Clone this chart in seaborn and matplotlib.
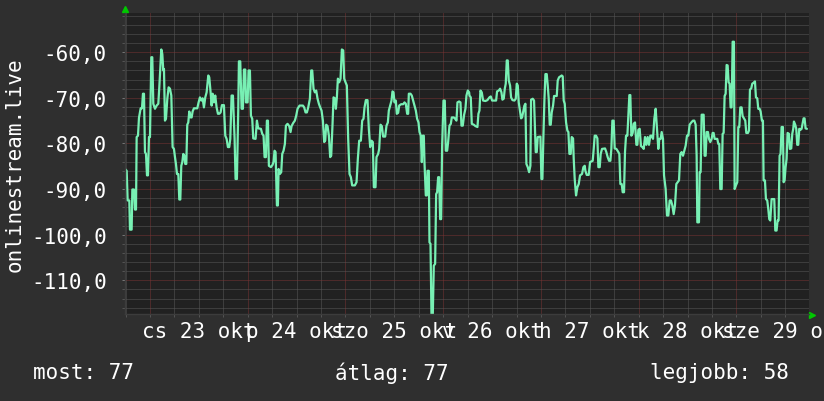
import matplotlib
matplotlib.use("Agg")
import matplotlib.pyplot as plt
from matplotlib.ticker import MultipleLocator, FuncFormatter
import seaborn as sns

# hours from 2025-10-23 00:00, signal in dBm (onlinestream.live)
hours = [
    -6.13, -5.72, -5.48, -5.07, -4.91, -4.50, -4.33, -3.93, -3.68, -3.43,
    -3.27, -2.94, -2.70, -2.29, -1.96, -1.72, -1.47, -1.23, -0.98, -0.73,
    -0.49, -0.24, 0.00, 0.33, 0.57, 0.82, 1.23, 1.64, 2.05, 2.29,
    2.78, 3.03, 3.27, 3.44, 3.68, 3.93, 4.26, 4.58, 4.91, 5.24,
    5.56, 5.89, 6.14, 6.38, 6.63, 6.96, 7.20, 7.45, 7.69, 7.94,
    8.18, 8.43, 8.67, 8.92, 9.16, 9.41, 9.65, 9.98, 10.23, 10.47,
    10.80, 11.62, 11.94, 12.27, 12.60, 12.93, 13.25, 13.58, 13.91, 14.32,
    14.56, 14.89, 15.14, 15.38, 15.71, 16.03, 16.36, 16.69, 17.02, 17.34,
    17.67, 18.16, 18.49, 18.82, 19.14, 19.47, 19.72, 20.04, 20.37, 20.78,
    21.02, 21.35, 21.68,
    21.84, 22.17, 22.50, 22.82, 23.07, 23.40, 23.56, 23.97, 24.21, 24.54,
    24.79, 25.11, 25.36, 25.93, 26.26, 26.59, 27.24, 27.57, 27.89, 28.14,
    28.47, 28.71, 28.96, 29.20, 29.69, 30.10, 30.35, 30.59, 30.84, 31.17,
    31.41, 31.58, 31.90, 32.23, 32.48, 32.80, 33.13, 33.38, 33.78, 34.19,
    34.52, 34.77, 35.18, 35.58, 35.91, 36.24, 36.73, 37.55, 37.87, 38.20,
    38.53, 38.86, 39.27, 39.59, 39.84, 40.16, 40.49, 40.82, 41.15, 41.47,
    41.80, 42.13, 42.46, 42.78, 43.03, 43.27, 43.60, 43.93, 44.25, 44.50,
    44.83, 45.07, 45.40, 45.65, 45.89, 46.14, 46.46, 46.79, 47.12, 47.45,
    47.69, 48.02, 48.34, 48.67, 49.00, 49.33, 49.65, 50.31,
    50.72, 51.04, 51.37, 51.78, 52.11, 52.43, 52.68, 53.01, 53.42, 53.74,
    54.07, 54.40, 54.72, 54.97, 55.38, 55.62, 56.03, 56.28, 56.61, 56.93,
    57.26, 57.75, 58.08, 58.41, 58.65, 58.98, 59.31, 59.55, 59.80, 60.04,
    60.37, 60.61, 60.94, 61.19, 61.68, 62.17, 62.50, 62.82, 63.15, 63.40,
    63.56, 63.97, 64.29, 64.62, 64.95, 65.28, 65.60, 65.93, 66.18, 66.50,
    66.75, 66.99, 67.24, 67.40, 67.73, 67.98, 68.14, 68.47, 68.63, 68.88,
    69.12, 69.45, 69.69, 70.02, 70.27, 70.51, 70.76, 71.00, 71.25, 71.49,
    71.74, 72.07, 72.39, 72.64, 72.97, 73.21, 73.54, 73.87, 74.11, 74.60,
    74.93, 75.26, 75.50, 75.91, 76.24, 76.48, 76.81, 77.14, 77.46, 77.71,
    78.04, 78.37,
    78.45, 78.77, 79.02, 79.51, 79.92, 80.41, 80.65, 80.90, 81.14, 81.47,
    81.80, 82.37, 82.86, 83.35, 83.68, 84.01, 84.99, 85.23, 85.64, 85.97,
    86.30, 86.54, 86.87, 87.12, 87.36, 87.61, 87.85, 88.10, 88.42, 88.67,
    89.00, 89.49, 89.82, 90.06, 90.31, 90.55, 90.80, 91.12, 91.37, 91.70,
    91.94, 92.19, 92.43, 92.76, 93.09, 93.41, 93.58, 93.99, 94.31, 94.48,
    94.72, 94.97, 95.21, 95.87, 96.11, 96.36, 96.60, 96.85, 97.10, 97.42,
    97.67, 97.91, 98.16, 98.40, 98.65, 98.98, 99.22, 99.88, 100.12, 100.45,
    100.78, 101.10, 101.35, 101.59, 101.84, 102.17, 102.49, 102.74, 102.99, 103.31,
    103.56, 103.89, 104.05, 104.29, 104.62, 104.95, 105.28, 105.60, 106.09, 106.42,
    106.75,
    106.91, 107.24, 107.73, 108.06, 108.71, 108.96, 109.20, 109.53, 109.86, 110.10,
    110.43, 110.67, 111.00, 111.74, 112.06, 112.39, 112.72, 113.05, 113.29, 113.54,
    113.86, 114.11, 114.52, 115.01, 115.25, 115.50, 115.83, 116.07, 116.40, 116.64,
    116.89, 117.22, 117.46, 117.71, 117.95, 118.20, 118.53, 118.77, 119.10, 119.43,
    119.67, 119.92, 120.24, 120.57, 120.90, 121.23, 121.55, 121.88, 122.21, 122.53,
    122.86, 123.19, 123.52, 123.84, 124.17, 124.50, 124.82, 125.07, 125.40, 125.64,
    125.97, 126.22, 126.62, 126.95, 127.28, 127.61, 127.93, 128.26, 128.59, 128.91,
    129.24, 129.57, 129.90, 130.22, 130.55, 130.88, 131.21, 131.53, 131.86, 132.19,
    132.51, 132.92, 133.33, 133.66, 133.99, 134.23, 134.40, 134.80,
    134.97, 135.21, 135.46, 135.95, 136.19, 136.44, 136.68, 137.01, 137.26, 137.58,
    137.91, 138.16, 138.40, 138.65, 139.30, 139.55, 139.79, 140.04, 140.37, 140.61,
    140.86, 141.10, 141.35, 141.59, 141.84, 142.08, 142.33, 142.57, 142.82, 143.07,
    143.39, 143.56, 143.88, 144.21, 144.46, 144.70, 144.95, 145.27, 145.52, 145.85,
    146.17, 146.42, 146.83, 147.07, 147.32, 147.65, 147.89, 148.22, 148.55, 148.79,
    149.12, 149.36, 149.69, 149.94, 150.26, 150.51, 150.67, 151.00, 151.25, 151.57,
    151.82, 152.06, 152.31, 152.64, 153.29, 153.54, 153.86, 154.11, 154.35, 154.60,
    154.84, 155.09, 155.42, 155.58, 155.83, 156.07, 156.32, 156.56, 156.89, 157.13,
    157.46, 157.71, 157.95, 158.12, 158.44, 158.69, 158.93, 159.18, 159.43, 159.75,
    160.00, 160.24, 160.49, 160.73, 160.98, 161.31,
]

signal = [
    -85.6, -86.0, -92.5, -92.5, -98.9, -98.9, -90.1, -90.1, -94.5, -94.5,
    -78.6, -78.3, -74.4, -72.3, -72.3, -69.1, -69.1, -81.9, -82.3, -87.0,
    -87.0, -78.6, -78.6, -61.1, -61.1, -71.3, -72.4, -71.7, -71.3, -67.7,
    -59.4, -60.4, -64.0, -63.7, -75.0, -74.6, -70.2, -67.7, -68.0, -69.5,
    -80.8, -81.2, -83.0, -84.5, -86.7, -86.7, -92.3, -92.3, -84.9, -84.1,
    -82.3, -82.7, -84.5, -84.5, -75.9, -75.4, -73.0, -74.3, -74.3, -73.0,
    -72.3, -72.3, -71.0, -69.9, -70.6, -70.1, -72.1, -69.9, -68.8, -65.1,
    -65.5, -68.8, -71.7, -69.1, -71.0, -69.5, -72.1, -73.5, -73.5, -73.2,
    -71.6, -71.6, -78.3, -79.0, -80.8, -80.8, -79.0, -69.5, -69.5, -79.0,
    -87.8, -87.8, -72.4,
    -62.0, -62.0, -72.4, -72.4, -63.8, -63.8, -71.0, -71.0, -64.0, -64.0,
    -73.9, -74.6, -78.9, -79.0, -75.0, -76.7, -76.8, -77.9, -78.3, -83.0,
    -83.0, -75.0, -75.0, -84.9, -85.2, -84.7, -84.0, -81.6, -81.9, -93.6,
    -93.6, -85.6, -86.7, -86.3, -82.3, -81.6, -80.1, -76.1, -75.7, -76.2,
    -77.5, -76.2, -75.5, -75.0, -73.9, -72.4, -71.7, -71.7, -72.1, -73.2,
    -73.2, -72.1, -70.2, -64.0, -64.0, -68.0, -68.8, -68.4, -70.2, -71.3,
    -72.1, -72.8, -75.0, -79.7, -79.4, -75.9, -76.2, -78.3, -83.0, -82.7,
    -75.7, -69.9, -70.1, -72.4, -69.9, -65.8, -66.6, -65.8, -59.4, -59.6,
    -65.8, -66.6, -67.3, -79.0, -86.7, -87.4, -89.2, -89.2,
    -88.5, -83.4, -79.4, -79.4, -75.0, -74.6, -72.1, -70.5, -70.5, -76.8,
    -80.8, -79.4, -79.7, -89.6, -89.6, -83.0, -82.3, -81.2, -75.9, -76.2,
    -78.5, -78.5, -76.1, -75.4, -72.8, -71.7, -70.6, -68.6, -68.8, -71.0,
    -70.6, -73.5, -73.3, -71.7, -71.4, -71.4, -71.0, -71.3, -73.5, -73.5,
    -69.1, -69.1, -69.5, -70.6, -71.7, -72.8, -74.6, -75.4, -77.5, -78.3,
    -84.1, -78.3, -78.3, -84.1, -91.4, -91.4, -86.0, -86.0, -101.7, -102.0,
    -117.4, -117.4, -106.8, -106.4, -91.1, -90.7, -87.4, -87.4, -96.6, -96.6,
    -80.5, -70.6, -70.6, -81.6, -81.6, -79.7, -76.1, -75.7, -74.3, -74.3,
    -74.6, -75.0, -71.0, -70.8, -71.0, -76.1, -76.1, -73.7, -72.4, -69.5,
    -68.4, -68.8,
    -69.5, -69.9, -75.7, -75.9, -76.2, -76.4, -73.5, -72.8, -68.4, -68.8,
    -70.6, -70.7, -70.5, -69.9, -69.7, -70.6, -70.6, -68.6, -68.4, -68.0,
    -68.8, -70.4, -70.2, -68.0, -66.9, -61.8, -61.8, -66.2, -67.3, -69.9,
    -70.5, -70.6, -70.2, -66.9, -67.3, -71.0, -72.6, -74.5, -74.3, -72.8,
    -71.7, -71.3, -84.5, -85.2, -86.3, -84.9, -70.4, -70.2, -70.6, -75.0,
    -81.9, -81.9, -78.6, -78.5, -87.8, -87.8, -78.6, -70.6, -64.8, -64.8,
    -67.3, -70.2, -75.9, -75.9, -73.2, -71.7, -69.6, -69.6, -66.2, -65.5,
    -65.3, -65.1, -65.3, -70.6, -71.3, -75.4, -77.2, -77.5, -82.3, -82.3,
    -78.6, -78.9, -83.4, -87.8, -91.4, -89.6, -88.9, -87.0, -86.7, -85.2,
    -84.9,
    -86.0, -86.9, -86.9, -84.1, -83.8, -81.2, -78.3, -78.3, -78.9, -85.2,
    -85.2, -82.3, -81.2, -81.1, -81.9, -83.0, -83.8, -83.8, -81.2, -75.0,
    -75.0, -81.1, -81.2, -81.9, -82.3, -88.9, -88.9, -90.7, -90.7, -81.9,
    -78.3, -78.3, -73.9, -69.4, -69.4, -78.3, -77.7, -75.7, -75.4, -80.3,
    -80.3, -77.0, -76.8, -80.6, -80.8, -81.2, -78.6, -80.3, -78.6, -80.3,
    -78.3, -78.3, -79.0, -74.6, -72.4, -76.8, -81.2, -79.0, -79.0, -77.5,
    -79.0, -87.0, -90.0, -95.8, -95.8, -92.5, -92.5, -93.6, -95.5, -93.6,
    -88.9, -88.5, -88.1, -82.3, -81.9, -82.7, -81.6, -80.5, -78.3, -78.3,
    -75.9, -75.4, -75.0, -75.0, -75.9, -82.7, -97.3, -97.3,
    -86.3, -86.3, -73.7, -73.7, -82.7, -82.7, -77.5, -77.5, -79.0, -79.7,
    -79.0, -77.7, -77.7, -79.0, -79.0, -80.1, -80.1, -90.0, -90.0, -77.9,
    -77.7, -69.6, -69.1, -62.8, -62.9, -66.6, -66.9, -72.1, -72.1, -57.7,
    -57.7, -90.0, -89.2, -88.5, -76.4, -76.4, -72.1, -72.1, -74.0, -74.5,
    -75.0, -77.7, -77.7, -77.2, -68.2, -67.9, -66.9, -66.7, -66.4, -69.9,
    -70.1, -72.4, -72.4, -73.0, -75.0, -75.0, -88.1, -88.1, -92.2, -92.5,
    -94.4, -96.6, -96.9, -92.2, -92.2, -99.1, -99.1, -96.9, -96.9, -82.7,
    -82.3, -76.4, -76.4, -88.5, -88.1, -85.2, -83.4, -77.7, -77.9, -81.2,
    -81.1, -77.9, -76.8, -75.2, -75.9, -76.8, -80.3, -80.3, -76.8, -77.0,
    -76.8, -75.7, -74.5, -74.5, -76.7, -76.8,
]

day_labels = ["cs 23 okt", "p 24 okt", "szo 25 okt", "v 26 okt",
              "h 27 okt", "k 28 okt", "sze 29 okt"]
day_noons = [12, 36, 60, 84, 108, 132, 156]

summary = ["most: 77", "átlag: 77", "legjobb: 58"]

BG = "#2f2f2f"
CANVAS = "#212121"
LINE = "#78f0b4"
MINOR = "#595959"
MAJOR = "#7a3434"

sns.set_style("dark")
plt.rcParams["font.family"] = ["DejaVu Sans Mono", "DejaVu Sans"]

fig = plt.figure(figsize=(8.24, 4.02), dpi=100, facecolor=BG)
ax = fig.add_axes([0.1517, 0.2164, 0.830, 0.7488], facecolor=CANVAS)

sns.lineplot(x=hours, y=signal, ax=ax, color=LINE, linewidth=1.6,
             estimator=None, sort=False)

ax.set_xlim(-6.13, 161.8)
ax.set_ylim(-117.4, -51.4)

ax.xaxis.set_major_locator(MultipleLocator(24))
ax.xaxis.set_minor_locator(MultipleLocator(6))
ax.yaxis.set_major_locator(MultipleLocator(10))
ax.yaxis.set_minor_locator(MultipleLocator(2))
ax.yaxis.set_major_formatter(
    FuncFormatter(lambda v, p: f"{v:.1f}".replace(".", ",")))
ax.set_xticklabels([])

ax.grid(which="minor", color=MINOR, linestyle=(0, (1, 1)), linewidth=0.72)
ax.grid(which="major", color=MAJOR, linestyle=(0, (1, 1)), linewidth=0.72)
ax.set_axisbelow(True)

ax.tick_params(axis="y", which="major", length=2, width=0.7, color="#777777",
               labelcolor="white", labelsize=15, pad=11, left=True)
ax.tick_params(axis="y", which="minor", length=2, width=0.7, color="#555555",
               left=True)
ax.tick_params(axis="x", which="both", length=2, width=0.7, color="#555555",
               bottom=True)

for side in ["top", "right"]:
    ax.spines[side].set_visible(False)
for side in ["left", "bottom"]:
    ax.spines[side].set_color("#3c3c3c")
    ax.spines[side].set_linewidth(1.0)

ax.set_xlabel("")
ax.set_ylabel("")

# day labels centred on noon, overlapping like the original
for h, lab in zip(day_noons, day_labels):
    ax.text(h, -0.055, lab, transform=ax.get_xaxis_transform(),
            ha="center", va="center", color="white", fontsize=15,
            clip_on=False)

fig.text(15 / 824, 1 - 164.5 / 402, "onlinestream.live", rotation=90,
         ha="center", va="center", color="white", fontsize=15)

for xpos, txt in zip([33, 335, 650], summary):
    fig.text(xpos / 824, 1 - 373 / 402, txt, ha="left", va="center",
             color="white", fontsize=15)

# axis arrows
ax.plot([0], [1.013], marker="^", color="#00c800", markersize=4,
        transform=ax.transAxes, clip_on=False)
ax.plot([1.004], [-0.003], marker=">", color="#00c800", markersize=4,
        transform=ax.transAxes, clip_on=False)

fig.savefig("out.png", dpi=100, facecolor=BG)
